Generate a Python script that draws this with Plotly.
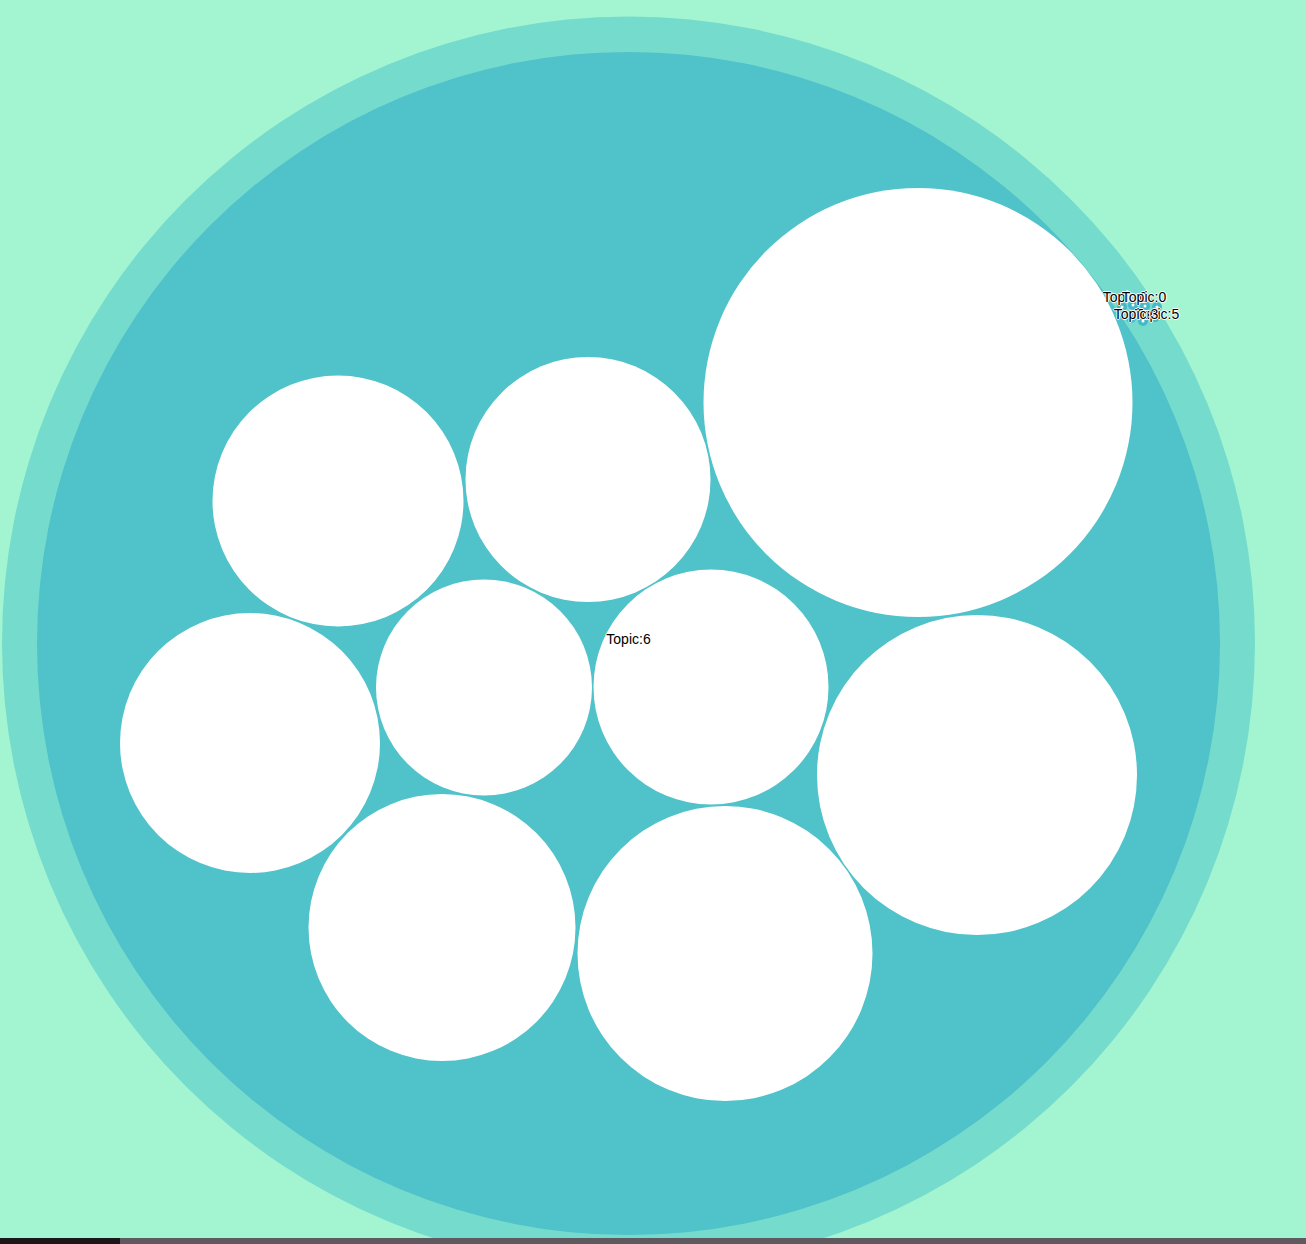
import plotly.graph_objects as go

W, H = 1306, 1244

# packed circles: centre x, centre y, radius (page units)
root_x, root_y, root_r = 628.5, 643.0, 626.5
group_x, group_y, group_r = 628.5, 643.5, 591.5

leaf_x = [918, 338, 588, 484, 711, 250, 977, 442, 725]
leaf_y = [402.5, 501, 479.5, 687.5, 687, 743, 775, 927.5, 953.5]
leaf_r = [214.5, 125.5, 122.5, 108, 117.5, 130, 160, 133.5, 147.5]

# tiny nodes clustered near the rim
tiny_x = [1122, 1133, 1145, 1157, 1131, 1143, 1155]
tiny_y = [307, 305, 306, 307, 318, 321, 318]
tiny_r = [5, 5, 5, 5, 5, 5, 4]

labels = ["Topic:6", "Topic:0", "Topic:5", "Topic:3", "Topic:0"]
label_x = [628.5, 1125, 1157, 1136, 1144]
label_y = [640, 298, 315, 315, 298]

bg = "rgb(163,245,209)"
ring = "rgb(117,219,205)"
inner = "rgb(80,194,201)"


def circle(cx, cy, r, color):
    return dict(type="circle", xref="x", yref="y", layer="below",
                x0=cx - r, x1=cx + r, y0=cy - r, y1=cy + r,
                fillcolor=color, line=dict(width=0))


shapes = [circle(root_x, root_y, root_r, ring),
          circle(group_x, group_y, group_r, inner)]
for cx, cy, r in zip(leaf_x, leaf_y, leaf_r):
    shapes.append(circle(cx, cy, r, "white"))
for cx, cy, r in zip(tiny_x, tiny_y, tiny_r):
    shapes.append(circle(cx, cy, r, "rgb(70,185,200)"))
    shapes.append(circle(cx, cy, 1.5, "white"))

# screen edge strip at the very bottom of the capture
shapes.append(dict(type="rect", xref="paper", yref="y", x0=0, x1=1, y0=1238, y1=H,
                   fillcolor="rgb(95,89,96)", line=dict(width=0), layer="above"))
shapes.append(dict(type="rect", xref="x", yref="y", x0=0, x1=120, y0=1238, y1=H,
                   fillcolor="rgb(29,22,24)", line=dict(width=0), layer="above"))

fig = go.Figure(go.Scatter(
    x=label_x, y=label_y, mode="text", text=labels,
    textposition="middle center",
    textfont=dict(family="Liberation Sans, Arial, sans-serif", size=14, color="black",
                  shadow="0 1px 0 #fff, 1px 0 0 #fff, -1px 0 0 #fff, 0 -1px 0 #fff"),
    hoverinfo="skip", showlegend=False))

fig.update_layout(
    width=W, height=H,
    margin=dict(l=0, r=0, t=0, b=0),
    paper_bgcolor=bg, plot_bgcolor=bg,
    shapes=shapes,
    xaxis=dict(range=[0, W], visible=False, fixedrange=True),
    yaxis=dict(range=[H, 0], visible=False, fixedrange=True),
)

fig.write_html("out.html", config={"displayModeBar": False},
               post_script="document.body.style.margin='0';document.body.style.overflow='hidden';")
